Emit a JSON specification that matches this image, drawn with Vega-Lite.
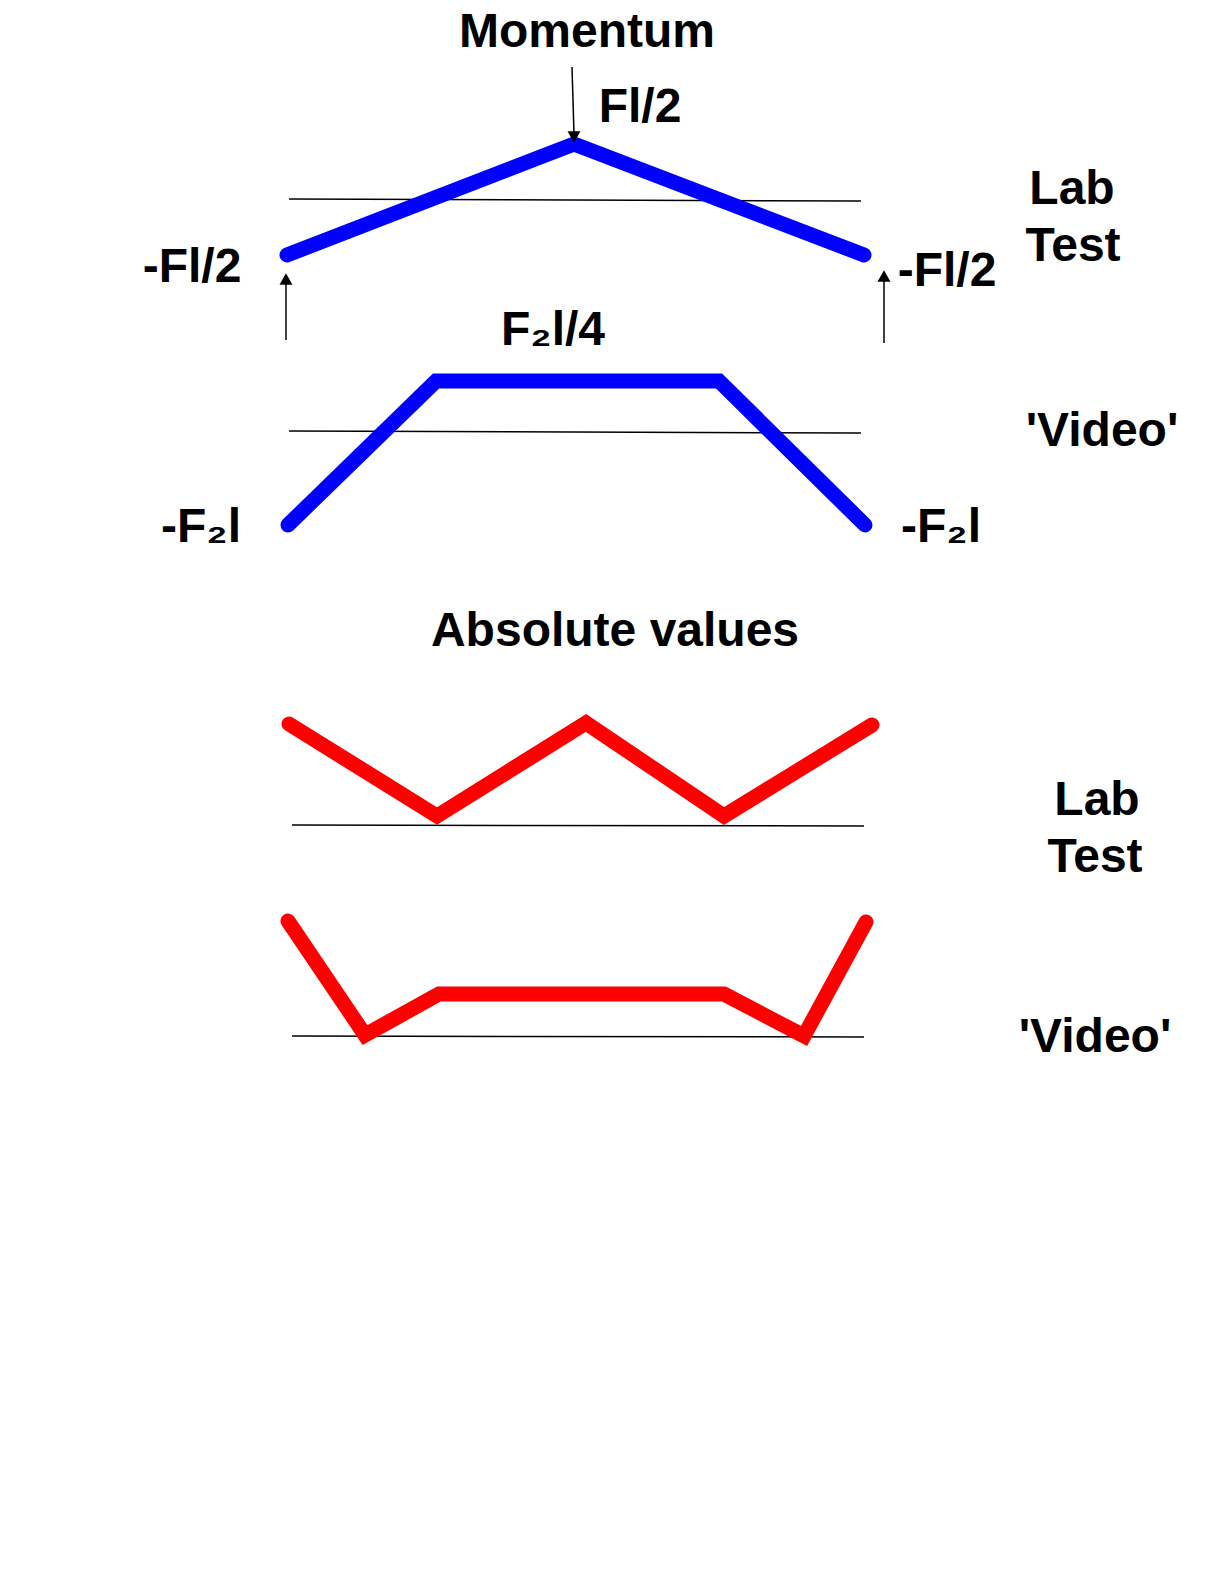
{
  "$schema": "https://vega.github.io/schema/vega-lite/v6.json",
  "autosize": {"type": "fit", "contains": "padding"},
  "width": 1224,
  "height": 1584,
  "padding": 0,
  "background": "white",
  "config": {"view": {"stroke": null}},
  "datasets": {
    "curves": [
      {"g": "labM", "kind": "momentum", "i": 0, "x": 287, "y": 255},
      {"g": "labM", "kind": "momentum", "i": 1, "x": 574, "y": 144},
      {"g": "labM", "kind": "momentum", "i": 2, "x": 864, "y": 255},
      {"g": "vidM", "kind": "momentum", "i": 0, "x": 288, "y": 525},
      {"g": "vidM", "kind": "momentum", "i": 1, "x": 436, "y": 381},
      {"g": "vidM", "kind": "momentum", "i": 2, "x": 719, "y": 381},
      {"g": "vidM", "kind": "momentum", "i": 3, "x": 865, "y": 525},
      {"g": "labA", "kind": "absolute", "i": 0, "x": 289, "y": 724},
      {"g": "labA", "kind": "absolute", "i": 1, "x": 437, "y": 816},
      {"g": "labA", "kind": "absolute", "i": 2, "x": 586, "y": 723},
      {"g": "labA", "kind": "absolute", "i": 3, "x": 724, "y": 816},
      {"g": "labA", "kind": "absolute", "i": 4, "x": 872, "y": 725},
      {"g": "vidA", "kind": "absolute", "i": 0, "x": 288, "y": 921},
      {"g": "vidA", "kind": "absolute", "i": 1, "x": 365, "y": 1035},
      {"g": "vidA", "kind": "absolute", "i": 2, "x": 439, "y": 994},
      {"g": "vidA", "kind": "absolute", "i": 3, "x": 724, "y": 994},
      {"g": "vidA", "kind": "absolute", "i": 4, "x": 804, "y": 1036},
      {"g": "vidA", "kind": "absolute", "i": 5, "x": 866, "y": 922}
    ],
    "baselines": [
      {"x": 289, "y": 199, "x2": 861, "y2": 201},
      {"x": 289, "y": 431, "x2": 861, "y2": 433},
      {"x": 292, "y": 825, "x2": 864, "y2": 826},
      {"x": 292, "y": 1036, "x2": 864, "y2": 1037}
    ],
    "shafts": [
      {"x": 572, "y": 67, "x2": 574, "y2": 134},
      {"x": 286, "y": 340, "x2": 286, "y2": 282},
      {"x": 884, "y": 343, "x2": 884, "y2": 279}
    ],
    "headsDown": [{"x": 574, "y": 137}],
    "headsUp": [{"x": 286, "y": 279}, {"x": 884, "y": 276}],
    "labels": [
      {"label": "Momentum", "x": 587, "y": 47},
      {"label": "Fl/2", "x": 640, "y": 122},
      {"label": "-Fl/2", "x": 192, "y": 282},
      {"label": "-Fl/2", "x": 947, "y": 286},
      {"label": "Lab", "x": 1072, "y": 204},
      {"label": "Test", "x": 1073, "y": 261},
      {"label": "F₂l/4", "x": 553, "y": 345},
      {"label": "'Video'", "x": 1102, "y": 446},
      {"label": "-F₂l", "x": 201, "y": 542},
      {"label": "-F₂l", "x": 941, "y": 542},
      {"label": "Absolute values", "x": 615, "y": 646},
      {"label": "Lab", "x": 1097, "y": 815},
      {"label": "Test", "x": 1095, "y": 872},
      {"label": "'Video'", "x": 1095, "y": 1052}
    ]
  },
  "layer": [
    {
      "data": {"name": "baselines"},
      "mark": {"type": "rule", "color": "black", "strokeWidth": 1.5},
      "encoding": {
        "x": {"field": "x", "type": "quantitative", "scale": {"domain": [0, 1224], "nice": false, "zero": false}, "axis": null},
        "y": {"field": "y", "type": "quantitative", "scale": {"domain": [1584, 0], "nice": false, "zero": false}, "axis": null},
        "x2": {"field": "x2"},
        "y2": {"field": "y2"}
      }
    },
    {
      "data": {"name": "curves"},
      "mark": {"type": "line", "strokeWidth": 15, "strokeCap": "round", "strokeJoin": "miter"},
      "encoding": {
        "x": {"field": "x", "type": "quantitative"},
        "y": {"field": "y", "type": "quantitative"},
        "detail": {"field": "g"},
        "order": {"field": "i"},
        "color": {"field": "kind", "type": "nominal", "scale": {"domain": ["momentum", "absolute"], "range": ["#0000FF", "#FF0000"]}, "legend": null}
      }
    },
    {
      "data": {"name": "shafts"},
      "mark": {"type": "rule", "color": "black", "strokeWidth": 1.5},
      "encoding": {
        "x": {"field": "x", "type": "quantitative"},
        "y": {"field": "y", "type": "quantitative"},
        "x2": {"field": "x2"},
        "y2": {"field": "y2"}
      }
    },
    {
      "data": {"name": "headsDown"},
      "mark": {"type": "point", "shape": "triangle-down", "filled": true, "color": "black", "size": 170, "opacity": 1},
      "encoding": {
        "x": {"field": "x", "type": "quantitative"},
        "y": {"field": "y", "type": "quantitative"}
      }
    },
    {
      "data": {"name": "headsUp"},
      "mark": {"type": "point", "shape": "triangle-up", "filled": true, "color": "black", "size": 170, "opacity": 1},
      "encoding": {
        "x": {"field": "x", "type": "quantitative"},
        "y": {"field": "y", "type": "quantitative"}
      }
    },
    {
      "data": {"name": "labels"},
      "mark": {"type": "text", "font": "Liberation Sans", "fontWeight": "bold", "fontSize": 48, "align": "center", "baseline": "alphabetic", "color": "black"},
      "encoding": {
        "x": {"field": "x", "type": "quantitative"},
        "y": {"field": "y", "type": "quantitative"},
        "text": {"field": "label"}
      }
    }
  ]
}
